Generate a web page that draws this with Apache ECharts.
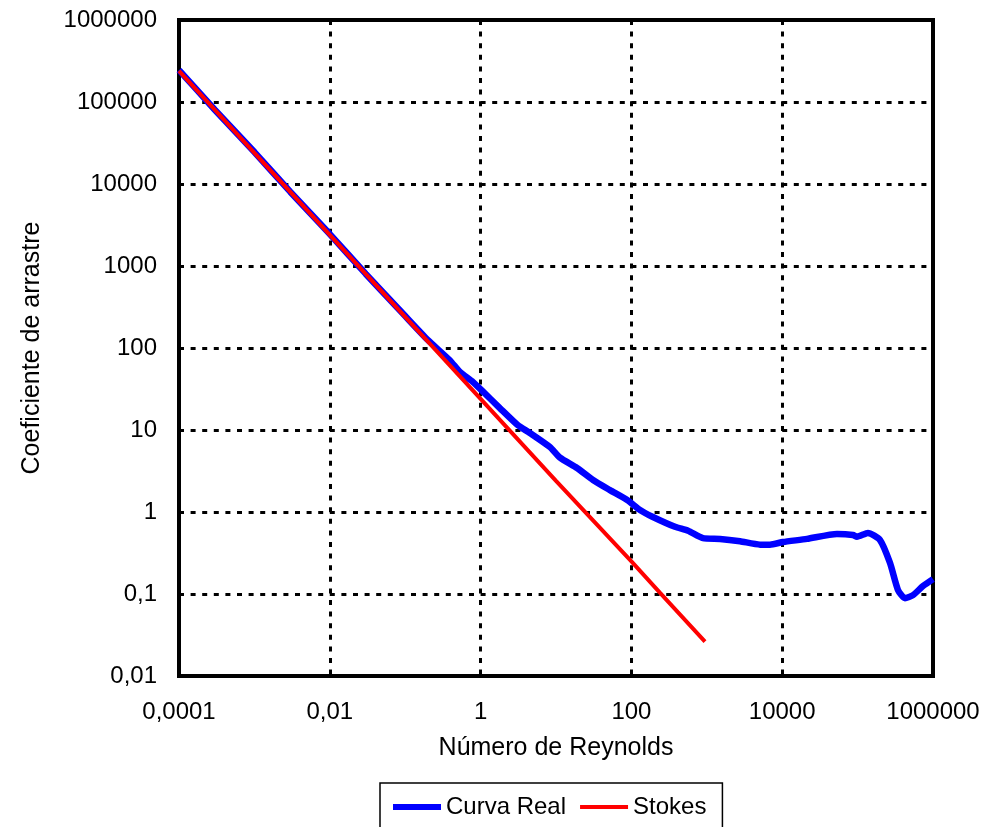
<!DOCTYPE html>
<html>
<head>
<meta charset="utf-8">
<script src="https://cdn.jsdelivr.net/npm/echarts@6/dist/echarts.min.js"></script>
<style>
html,body{margin:0;padding:0;background:#fff;}
#chart{width:987px;height:827px;}
</style>
</head>
<body>
<div id="chart"></div>
<script>
// Tick labels
const xTickLabels = ['0,0001', '0,01', '1', '100', '10000', '1000000'];
const yTickLabels = ['0,01', '0,1', '1', '10', '100', '1000', '10000', '100000', '1000000'];

// Curva Real (Reynolds number, drag coefficient)
const reReal = [0.0001, 0.0003, 0.001, 0.003, 0.01, 0.03, 0.1, 0.2, 0.39, 0.53, 0.79, 1.02, 1.8, 3.1, 4.5, 8.3,
  11.3, 19, 31, 52, 88, 130, 193, 379, 565, 890, 1500, 2760, 5080, 6890, 10240, 21300, 53300, 86900, 98000,
  137000, 198000, 269000, 343000, 425000, 543000, 737000, 1000000];
const cdReal = [245000, 80000, 24500, 8000, 2450, 800, 245, 125, 71, 51, 38.5, 30.8, 18.5, 11.5, 9.2, 6.2,
  4.6, 3.44, 2.46, 1.85, 1.40, 1.06, 0.87, 0.66, 0.59, 0.48, 0.47, 0.44, 0.40, 0.40, 0.43, 0.47, 0.54, 0.525, 0.50,
  0.555, 0.456, 0.239, 0.112, 0.089, 0.097, 0.125, 0.152];

// Stokes
const reStokes = [0.0001, 0.001, 0.01, 0.1, 1, 10, 100, 240, 946];
const cdStokes = [240000, 24000, 2400, 240, 24, 2.4, 0.25, 0.103, 0.0262];

const seriesNames = ['Curva Real', 'Stokes'];
const axisNames = ['Número de Reynolds', 'Coeficiente de arrastre'];

const FONT = "'Liberation Sans', Arial, sans-serif";
const BLUE = '#0000FF';
const RED = '#FF0000';

const chart = echarts.init(document.getElementById('chart'));
chart.setOption({
  backgroundColor: '#fff',
  animation: false,
  grid: {
    left: 179, right: 54, top: 20, bottom: 151,
    show: true, borderColor: '#000', borderWidth: 4, backgroundColor: 'transparent'
  },
  legend: {
    left: 380, top: 783,
    padding: [12, 16, 30, 10],
    itemGap: 12,
    itemWidth: 48,
    itemHeight: 24,
    borderColor: '#000',
    borderWidth: 1.5,
    textStyle: { fontFamily: FONT, fontSize: 24, color: '#000' },
    data: [
      { name: seriesNames[0], itemStyle: { opacity: 0 }, lineStyle: { color: BLUE, width: 6 } },
      { name: seriesNames[1], itemStyle: { opacity: 0 }, lineStyle: { color: RED, width: 4 } }
    ]
  },
  xAxis: {
    type: 'log', logBase: 100, min: 0.0001, max: 1000000, interval: 1,
    name: axisNames[0], nameLocation: 'middle', nameGap: 60,
    nameTextStyle: { fontFamily: FONT, fontSize: 25, color: '#000' },
    axisLine: { show: false },
    axisTick: { show: false },
    axisLabel: {
      fontFamily: FONT, fontSize: 24, color: '#000', margin: 24,
      formatter: v => xTickLabels[Math.round((Math.log10(v) + 4) / 2)]
    },
    splitLine: { show: true, lineStyle: { color: '#000', width: 3, type: [5, 6.6] } }
  },
  yAxis: {
    type: 'log', logBase: 10, min: 0.01, max: 1000000, interval: 1,
    name: axisNames[1], nameLocation: 'middle', nameGap: 134, nameRotate: 90,
    nameTextStyle: { fontFamily: FONT, fontSize: 25, color: '#000' },
    axisLine: { show: false },
    axisTick: { show: false },
    axisLabel: {
      fontFamily: FONT, fontSize: 24, color: '#000', margin: 22,
      formatter: v => yTickLabels[Math.round(Math.log10(v) + 2)]
    },
    splitLine: { show: true, lineStyle: { color: '#000', width: 3, type: [5, 6.6] } }
  },
  series: [
    {
      name: seriesNames[0], type: 'line', symbol: 'none', smooth: 0.2,
      color: BLUE,
      lineStyle: { color: BLUE, width: 6.5 },
      data: reReal.map((r, i) => [r, cdReal[i]]),
      z: 3
    },
    {
      name: seriesNames[1], type: 'line', symbol: 'none',
      color: RED,
      lineStyle: { color: RED, width: 4 },
      data: reStokes.map((r, i) => [r, cdStokes[i]]),
      z: 4
    }
  ]
});
</script>
</body>
</html>
